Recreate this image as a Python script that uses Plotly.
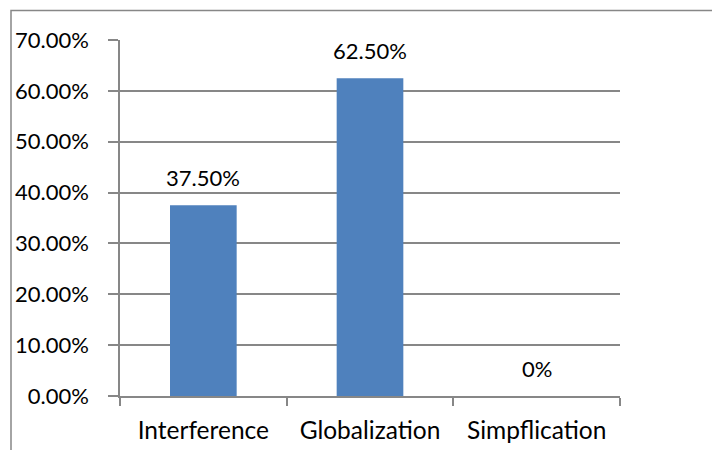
import plotly.graph_objects as go

categories = ["Interference", "Globalization", "Simpflication"]
values = [0.375, 0.625, 0.0]
labels = ["37.50%", "62.50%", "0%"]

BAR = "#4F81BD"
GRID = "#878787"
FONT = "Lato"
FS_NUM = 22
FS_CAT = 24.5

fig = go.Figure()
fig.add_trace(go.Bar(
    x=categories, y=values,
    marker=dict(color=BAR, line=dict(width=0)),
    width=0.4,
    hoverinfo="skip",
))

for c, v, t in zip(categories, values, labels):
    fig.add_annotation(x=c, y=v, text=t, showarrow=False, xref="x", yref="y",
                       yanchor="bottom", yshift=12,
                       font=dict(family=FONT, size=FS_NUM, color="black"))

fig.update_layout(
    width=712, height=450,
    margin=dict(l=120, r=92, t=40, b=54),
    paper_bgcolor="white", plot_bgcolor="white",
    showlegend=False,
    font=dict(family=FONT, size=FS_NUM, color="black"),
    bargap=0.6,
)
fig.update_xaxes(
    type="category", tickson="boundaries", automargin=False,
    showline=True, linecolor=GRID, linewidth=1.5,
    ticks="outside", ticklen=8, tickcolor=GRID, tickwidth=1.5,
    showgrid=False, ticklabelstandoff=12,
    tickfont=dict(family=FONT, size=FS_CAT, color="black"),
)
fig.update_yaxes(
    range=[0, 0.7], dtick=0.1, tickformat=".2%", automargin=False,
    showline=True, linecolor=GRID, linewidth=1.5,
    ticks="outside", ticklen=10, tickcolor=GRID, tickwidth=1.5,
    showgrid=True, gridcolor=GRID, gridwidth=1.5,
    zeroline=False, ticklabelstandoff=15,
    tickfont=dict(family=FONT, size=FS_NUM, color="black"),
)

# outer chart border (top and left visible; extends beyond the frame right/bottom)
fig.add_shape(type="rect", xref="paper", yref="paper",
              x0=(11 - 120) / 500, x1=(720 - 120) / 500,
              y0=(396 - 460) / 356, y1=(396 - 10.5) / 356,
              line=dict(color=GRID, width=1.5), fillcolor="rgba(0,0,0,0)", layer="below")

fig.write_html("out.html")
